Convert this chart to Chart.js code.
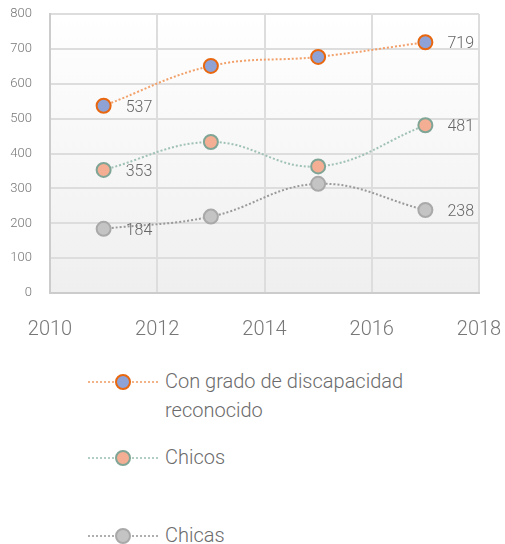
<!DOCTYPE html>
<html>
<head>
<meta charset="utf-8">
<script src="https://cdn.jsdelivr.net/npm/chart.js@4/dist/chart.umd.min.js"></script>
<style>
    body { margin: 0; background: #fff; font-family: Roboto, sans-serif; }
    #wrap { position: relative; width: 505px; height: 544px; }
    #chartLine { position: absolute; left: 0; top: 0; }
    #legend { position: absolute; left: 88px; top: 0; width: 417px; }
    .item { position: absolute; left: 0; display: flex; align-items: flex-start; }
    .mark { position: relative; width: 70px; height: 24px; flex: none; }
    .mark .ln { position: absolute; left: 0; right: 0; top: 11px; border-top: 2px dotted; opacity: 0.8; }
    .mark .pt { position: absolute; left: 27px; top: 4px; width: 12px; height: 12px; border-radius: 50%; border: 2px solid; }
    .txt { margin-left: 7px; font-size: 20px; line-height: 29px; color: #6b6b6b; font-weight: 300; margin-top: -3px; }
</style>
</head>
<body>
<div id="wrap">
    <canvas id="chartLine" width="505" height="367"></canvas>
    <div id="legend"></div>
</div>
<script>
// datos
const years = [2011, 2013, 2015, 2017];
const seriesNames = ['Con grado de discapacidad reconocido', 'Chicos', 'Chicas'];
const conGrado = [537, 651, 677, 719];
const chicos = [353, 433, 363, 481];
const chicas = [184, 219, 313, 238];
const xTicks = [2010, 2012, 2014, 2016, 2018];
const yTicks = [0, 100, 200, 300, 400, 500, 600, 700, 800];

const styles = [
    { line: '#f2a06a', fill: '#8fa2d6', border: '#e8670f' },
    { line: '#9fc2b4', fill: '#f3ae93', border: '#7fa596' },
    { line: '#9a9a9a', fill: '#c4c4c4', border: '#a9a9a9' },
];

function toPoints(vals) {
    return years.map(function (y, i) { return { x: y, y: vals[i] }; });
}

const allValues = [conGrado, chicos, chicas];
const datasets = allValues.map(function (vals, i) {
    return {
        label: seriesNames[i],
        data: toPoints(vals),
        borderColor: styles[i].line,
        borderWidth: 2,
        borderDash: [2, 2],
        tension: 0.4,
        pointRadius: 7,
        pointHoverRadius: 7,
        pointBackgroundColor: styles[i].fill,
        pointBorderColor: styles[i].border,
        pointBorderWidth: 2,
    };
});

// fondo degradado del area
const bgPlugin = {
    id: 'bg',
    beforeDraw: function (chart) {
        const a = chart.chartArea;
        const ctx = chart.ctx;
        const g = ctx.createLinearGradient(0, a.top, 0, a.bottom);
        g.addColorStop(0, '#ffffff');
        g.addColorStop(1, '#efefef');
        ctx.save();
        ctx.fillStyle = g;
        ctx.fillRect(a.left, a.top, a.right - a.left, a.bottom - a.top);
        ctx.restore();
    }
};

// etiquetas del primer y ultimo punto
const labelPlugin = {
    id: 'endLabels',
    afterDatasetsDraw: function (chart) {
        const ctx = chart.ctx;
        ctx.save();
        ctx.font = '300 16px Roboto';
        ctx.fillStyle = '#666';
        ctx.textAlign = 'left';
        ctx.textBaseline = 'middle';
        chart.data.datasets.forEach(function (ds, i) {
            const meta = chart.getDatasetMeta(i);
            [0, ds.data.length - 1].forEach(function (j) {
                const p = meta.data[j];
                ctx.fillText(String(ds.data[j].y), p.x + 22, p.y + 2);
            });
        });
        ctx.restore();
    }
};

function noPad(s) {
    s.paddingLeft = 0;
    s.paddingRight = 0;
    s.paddingTop = 0;
    s.paddingBottom = 0;
}

const chartLine = new Chart(document.getElementById('chartLine'), {
    type: 'line',
    data: { datasets: datasets },
    options: {
        responsive: false,
        animation: false,
        layout: { padding: { top: 14, right: 26, left: 0, bottom: 0 } },
        plugins: { legend: { display: false }, tooltip: { enabled: false } },
        scales: {
            x: {
                type: 'linear',
                min: xTicks[0],
                max: xTicks[xTicks.length - 1],
                afterBuildTicks: function (s) { s.ticks = xTicks.map(function (v) { return { value: v }; }); },
                afterFit: noPad,
                ticks: {
                    padding: 25,
                    color: '#777',
                    font: { family: 'Roboto', size: 20, weight: '300' },
                    callback: function (v) { return String(v); },
                },
                grid: { color: '#dddddd', lineWidth: 2, drawTicks: false },
                border: { color: '#cccccc', width: 2 },
            },
            y: {
                min: 0,
                max: 800,
                afterBuildTicks: function (s) { s.ticks = yTicks.map(function (v) { return { value: v }; }); },
                afterFit: function (s) { noPad(s); s.width = 50; },
                ticks: {
                    padding: 18,
                    color: '#777',
                    font: { family: 'Roboto', size: 13, weight: '300' },
                },
                grid: { color: '#dddddd', lineWidth: 2, drawTicks: false },
                border: { color: '#cccccc', width: 2 },
            },
        },
    },
    plugins: [bgPlugin, labelPlugin],
});

// leyenda
const legendTops = [370, 446, 524];
const legendLines = [['Con grado de discapacidad', 'reconocido'], ['Chicos'], ['Chicas']];
const legend = document.getElementById('legend');
legendLines.forEach(function (lines, i) {
    const item = document.createElement('div');
    item.className = 'item';
    item.style.top = legendTops[i] + 'px';
    item.innerHTML = '<div class="mark"><div class="ln" style="border-color:' + styles[i].line + '"></div>' +
        '<div class="pt" style="background:' + styles[i].fill + ';border-color:' + styles[i].border + '"></div></div>' +
        '<div class="txt">' + lines.join('<br>') + '</div>';
    legend.appendChild(item);
});
</script>
</body>
</html>
